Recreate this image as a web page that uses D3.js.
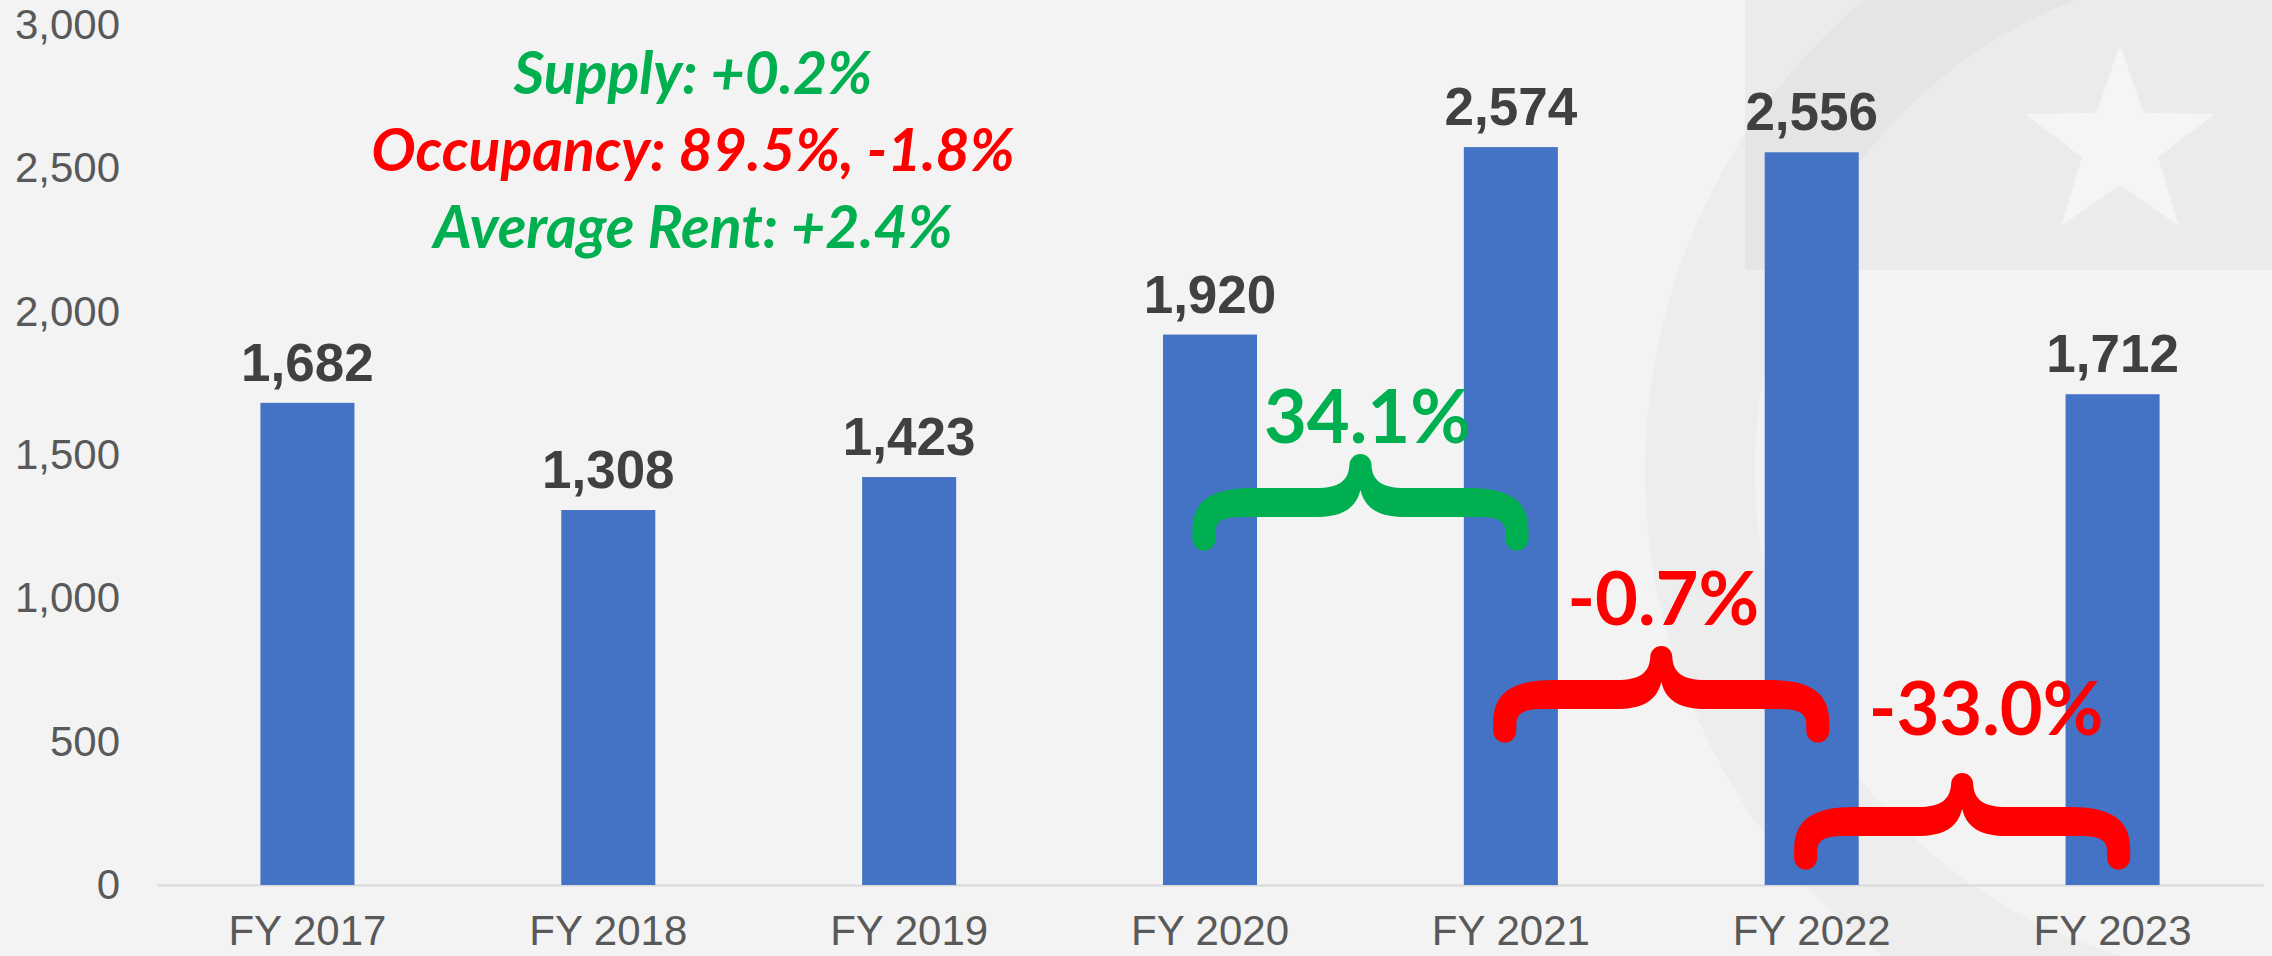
<!DOCTYPE html>
<html>
<head>
<meta charset="utf-8">
<script src="https://cdnjs.cloudflare.com/ajax/libs/d3/7.8.5/d3.min.js"></script>
<style>
  html, body { margin: 0; padding: 0; background: #f3f3f3; overflow: hidden; }
  svg { display: block; }
</style>
</head>
<body>
<div id="chart"></div>
<script>
// chart data
var years = ["FY 2017", "FY 2018", "FY 2019", "FY 2020", "FY 2021", "FY 2022", "FY 2023"];
var sales = [1682, 1308, 1423, 1920, 2574, 2556, 1712];
var yTicks = [0, 500, 1000, 1500, 2000, 2500, 3000];

// year-over-year callouts (from index -> to index)
var changeFrom = [3, 4, 5];
var changeLabels = ["34.1%", "-0.7%", "-33.0%"];
var changeColors = ["#00b050", "#ff0000", "#ff0000"];

// summary notes
var notes = ["Supply: +0.2%", "Occupancy: 89.5%, -1.8%", "Average Rent: +2.4%"];
var noteColors = ["#00b050", "#ff0000", "#00b050"];

var w = 2272, h = 956;
var axisY = 885, topY = 25;
var left = 157, right = 2263;

var svg = d3.select("#chart")
    .append("svg")
    .attr("width", w)
    .attr("height", h);

// faint background watermark
var wm = svg.append("g");
wm.append("rect")
    .attr("x", 1745).attr("y", 0)
    .attr("width", 527).attr("height", 270)
    .attr("fill", "#000").attr("opacity", 0.03);
wm.append("circle")
    .attr("cx", 2260).attr("cy", 470)
    .attr("r", 560)
    .attr("fill", "none")
    .attr("stroke", "#000")
    .attr("stroke-width", 110)
    .attr("opacity", 0.025);
var starPts = d3.range(10).map(function(i) {
    var r = i % 2 === 0 ? 100 : 40;
    var a = -Math.PI / 2 + i * Math.PI / 5;
    return [2120 + r * Math.cos(a), 145 + r * Math.sin(a)];
});
wm.append("polygon")
    .attr("points", starPts.map(function(p) { return p.join(","); }).join(" "))
    .attr("fill", "#fff")
    .attr("opacity", 0.5);

// scales
var xScale = d3.scaleBand()
    .domain(years)
    .range([left, right])
    .paddingInner(0.6875)
    .paddingOuter(0.34375);

var yScale = d3.scaleLinear()
    .domain([0, 3000])
    .range([axisY, topY]);

// y axis labels
var yAxis = d3.axisLeft(yScale)
    .tickValues(yTicks)
    .tickFormat(d3.format(","))
    .tickSize(0)
    .tickPadding(37);
var gy = svg.append("g")
    .attr("transform", "translate(" + left + ",0)")
    .call(yAxis);
gy.select(".domain").remove();
gy.selectAll("text")
    .attr("fill", "#595959")
    .style("font-family", "'Liberation Sans', Arial, sans-serif")
    .style("font-size", "42px");

// x axis
var xAxis = d3.axisBottom(xScale).tickSize(0).tickPadding(0);
var gx = svg.append("g")
    .attr("transform", "translate(0," + axisY + ")")
    .call(xAxis);
gx.select(".domain")
    .attr("stroke", "#d9d9d9")
    .attr("stroke-width", 2);
gx.selectAll("text")
    .attr("fill", "#595959")
    .attr("dy", null)
    .attr("y", 60)
    .style("font-family", "'Liberation Sans', Arial, sans-serif")
    .style("font-size", "42px");

// bars
svg.selectAll("rect.bar")
    .data(sales)
    .enter()
    .append("rect")
    .attr("class", "bar")
    .attr("x", function(d, i) { return xScale(years[i]); })
    .attr("y", function(d) { return yScale(d); })
    .attr("width", xScale.bandwidth())
    .attr("height", function(d) { return axisY - yScale(d); })
    .attr("fill", "#4472c4");

// value labels
svg.selectAll("text.val")
    .data(sales)
    .enter()
    .append("text")
    .attr("class", "val")
    .attr("x", function(d, i) { return xScale(years[i]) + xScale.bandwidth() / 2; })
    .attr("y", function(d) { return yScale(d) - 22; })
    .attr("text-anchor", "middle")
    .attr("fill", "#404040")
    .style("font-family", "'Liberation Sans', Arial, sans-serif")
    .style("font-weight", "bold")
    .style("font-size", "53px")
    .text(function(d) { return d3.format(",")(d); });

// summary notes
svg.selectAll("text.note")
    .data(notes)
    .enter()
    .append("text")
    .attr("class", "note")
    .attr("x", 693)
    .attr("y", function(d, i) { return 94 + i * 77; })
    .attr("text-anchor", "middle")
    .attr("fill", function(d, i) { return noteColors[i]; })
    .style("font-family", "Lato, 'Open Sans', sans-serif")
    .style("font-weight", "bold")
    .style("font-style", "italic")
    .style("font-size", "59px")
    .text(function(d) { return d; });

// curly brace callouts
var braceLevel = [1500, 830, 387];   // tip height, in chart units
var labelLift = [12, 22, 39];
var labelShift = [7, 2, 24];
var braceHalf = 168;

function bracePath(cx, ty) {
    var hw = braceHalf;
    var p = [
        ["M", 0, 35],
        ["C", -5, 55, -20, 62, -45, 62],
        ["L", -hw + 50, 62],
        ["C", -hw + 30, 62, -hw + 23, 66, -hw + 23, 78],
        ["L", -hw + 23, 84],
        ["A", 11.5, 11.5, 0, 0, 1, -hw, 84],
        ["L", -hw, 75],
        ["C", -hw, 45, -hw + 20, 33, -hw + 60, 33],
        ["L", -45, 33],
        ["C", -20, 33, -12, 25, -11, 10],
        ["A", 11, 11, 0, 0, 1, 11, 10],
        ["C", 12, 25, 20, 33, 45, 33],
        ["L", hw - 60, 33],
        ["C", hw - 20, 33, hw, 45, hw, 75],
        ["L", hw, 84],
        ["A", 11.5, 11.5, 0, 0, 1, hw - 23, 84],
        ["L", hw - 23, 78],
        ["C", hw - 23, 66, hw - 30, 62, hw - 50, 62],
        ["L", 45, 62],
        ["C", 20, 62, 5, 55, 0, 35]
    ];
    return p.map(function(s) {
        if (s[0] === "A") {
            return "A" + s[1] + " " + s[2] + " " + s[3] + " " + s[4] + " " + s[5] + " " + (cx + s[6]) + " " + (ty + s[7]);
        }
        var out = s[0];
        for (var k = 1; k < s.length; k += 2) {
            out += (k > 1 ? " " : "") + (cx + s[k]) + " " + (ty + s[k + 1]);
        }
        return out;
    }).join(" ") + " Z";
}

changeFrom.forEach(function(fi, j) {
    var c1 = xScale(years[fi]) + xScale.bandwidth() / 2;
    var c2 = xScale(years[fi + 1]) + xScale.bandwidth() / 2;
    var cx = (c1 + c2) / 2;
    var ty = yScale(braceLevel[j]);

    svg.append("path")
        .attr("d", bracePath(cx, ty))
        .attr("fill", changeColors[j]);

    svg.append("text")
        .attr("x", cx + labelShift[j])
        .attr("y", ty - labelLift[j])
        .attr("text-anchor", "middle")
        .attr("fill", changeColors[j])
        .style("font-family", "Lato, 'Open Sans', sans-serif")
        .style("font-weight", "bold")
        .style("font-size", "74px")
        .text(changeLabels[j]);
});
</script>
</body>
</html>
